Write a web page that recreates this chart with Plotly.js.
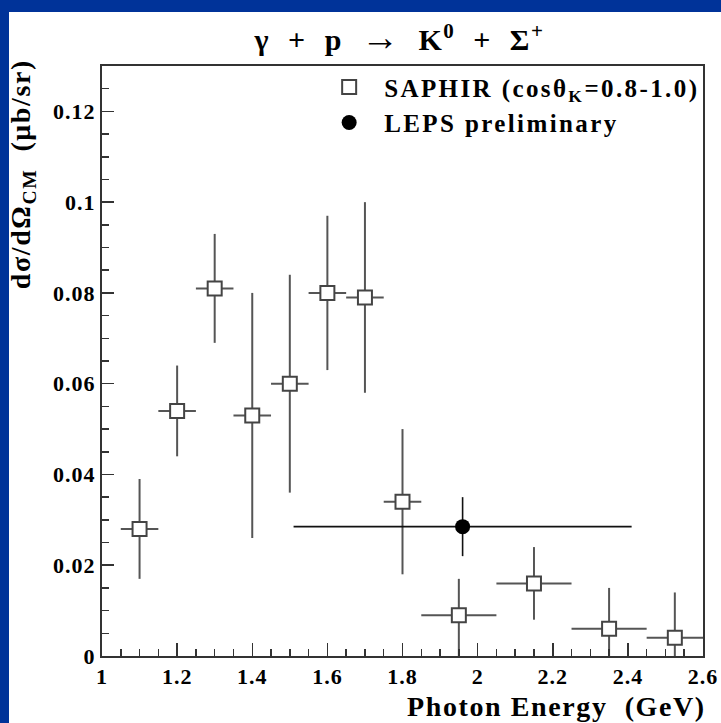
<!DOCTYPE html>
<html>
<head>
<meta charset="utf-8">
<script src="https://cdn.plot.ly/plotly-3.0.1.min.js"></script>
<style>
  html, body { margin: 0; padding: 0; background: #003399; width: 721px; height: 723px; overflow: hidden; }
  #sheet { position: absolute; left: 9px; top: 12px; width: 712px; height: 711px; background: #ffffff; }
  #chart { position: absolute; left: 0; top: 0; width: 721px; height: 723px; }
  #chart .xtick text, #chart .ytick text { letter-spacing: 1px; }
  #chart .legendtext { letter-spacing: 2.4px; }
  #chart .annotation-text { letter-spacing: 1.6px; }
  #chart .gtitle { letter-spacing: 1.5px; }
  #chart g.legend g.scrollbox, #chart g.legend { clip-path: none !important; }
</style>
</head>
<body>
<div id="sheet"></div>
<div id="chart"></div>
<script>
// SAPHIR data (cos theta_K = 0.8-1.0)
const saphirEnergy = [1.1, 1.2, 1.3, 1.4, 1.5, 1.6, 1.7, 1.8, 1.95, 2.15, 2.35, 2.525];
const saphirEnergyErr = [0.05, 0.05, 0.05, 0.05, 0.05, 0.05, 0.05, 0.05, 0.1, 0.1, 0.1, 0.075];
const saphirSigma = [0.028, 0.054, 0.081, 0.053, 0.060, 0.080, 0.079, 0.034, 0.009, 0.016, 0.006, 0.004];
const saphirErrUp = [0.011, 0.010, 0.012, 0.027, 0.024, 0.017, 0.021, 0.016, 0.008, 0.008, 0.009, 0.010];
const saphirErrDown = [0.011, 0.010, 0.012, 0.027, 0.024, 0.017, 0.021, 0.016, 0.009, 0.008, 0.006, 0.004];

// LEPS preliminary
const lepsEnergy = [1.96];
const lepsEnergyErr = [0.45];
const lepsSigma = [0.0285];
const lepsErr = [0.0065];

const serif = '"Liberation Serif", "Times New Roman", serif';
const G = ' \u00A0';

const traces = [
  {
    type: 'scatter', mode: 'markers', name: 'SAPHIR (cosθ<sub>K</sub>=0.8-1.0)',
    x: saphirEnergy, y: saphirSigma,
    legendgroup: 'a',
    marker: { symbol: 'square', size: 14, color: '#ffffff', line: { color: '#444444', width: 2 } },
    error_y: { type: 'data', symmetric: false, array: saphirErrUp, arrayminus: saphirErrDown, color: '#555555', thickness: 2, width: 0 },
    error_x: { type: 'data', array: saphirEnergyErr, color: '#555555', thickness: 2, width: 0 }
  },
  {
    type: 'scatter', mode: 'markers', name: 'LEPS preliminary',
    x: lepsEnergy, y: lepsSigma,
    legendgroup: 'b',
    marker: { symbol: 'circle', size: 15, color: '#000000' },
    error_y: { type: 'data', array: lepsErr, color: '#111111', thickness: 1.6, width: 0 },
    error_x: { type: 'data', array: lepsEnergyErr, color: '#111111', thickness: 1.6, width: 0 }
  }
];

const layout = {
  width: 721, height: 723,
  margin: { l: 102, r: 18, t: 66, b: 67 },
  paper_bgcolor: 'rgba(0,0,0,0)', plot_bgcolor: '#ffffff',
  font: { family: serif, color: '#000000' },
  title: {
    text: 'γ' + G + '+' + G + 'p' + G + '<span style="font-size:38px">→</span>' + G + 'K<sup>0</sup>' + G + '+' + G + 'Σ<sup>+</sup>',
    font: { family: serif, size: 30, weight: 'bold', color: '#000000' },
    xref: 'paper', x: 0.495, xanchor: 'center',
    yref: 'container', y: 0.945, yanchor: 'middle'
  },
  showlegend: true,
  legend: {
    x: 0.353, y: 1.003, xanchor: 'left', yanchor: 'top',
    bgcolor: 'rgba(0,0,0,0)', borderwidth: 0,
    traceorder: 'grouped', tracegroupgap: 0, itemwidth: 60,
    font: { family: serif, size: 25, weight: 'bold', color: '#000000' }
  },
  xaxis: {
    range: [1, 2.6], dtick: 0.2, tick0: 1,
    ticks: 'inside', ticklen: 13, tickwidth: 1.5, tickcolor: '#333333',
    minor: { dtick: 0.05, ticks: 'inside', ticklen: 7, tickwidth: 1.5, tickcolor: '#333333' },
    showline: true, linecolor: '#333333', linewidth: 2, mirror: true,
    showgrid: false, zeroline: false,
    tickfont: { family: serif, size: 22, weight: 'bold', color: '#000000' }
  },
  yaxis: {
    range: [0, 0.13], dtick: 0.02, tick0: 0,
    ticks: 'inside', ticklen: 12, tickwidth: 1.5, tickcolor: '#333333',
    minor: { dtick: 0.005, ticks: 'inside', ticklen: 7, tickwidth: 1.5, tickcolor: '#333333' },
    showline: true, linecolor: '#333333', linewidth: 2, mirror: true,
    showgrid: false, zeroline: false,
    tickfont: { family: serif, size: 22, weight: 'bold', color: '#000000' }
  },
  annotations: [
    {
      text: 'dσ/dΩ<sub>CM</sub>  (μb/sr)',
      xref: 'paper', yref: 'paper', x: -0.132, y: 0.992,
      xanchor: 'center', yanchor: 'top', textangle: -90, showarrow: false,
      font: { family: serif, size: 28, weight: 'bold', color: '#000000' }
    },
    {
      text: 'Photon Energy  (GeV)',
      xref: 'paper', yref: 'paper', x: 0.982, y: -0.086,
      xanchor: 'right', yanchor: 'middle', showarrow: false,
      font: { family: serif, size: 28, weight: 'bold', color: '#000000' }
    }
  ]
};

Plotly.newPlot('chart', traces, layout, { displayModeBar: false, staticPlot: true });
</script>
</body>
</html>
